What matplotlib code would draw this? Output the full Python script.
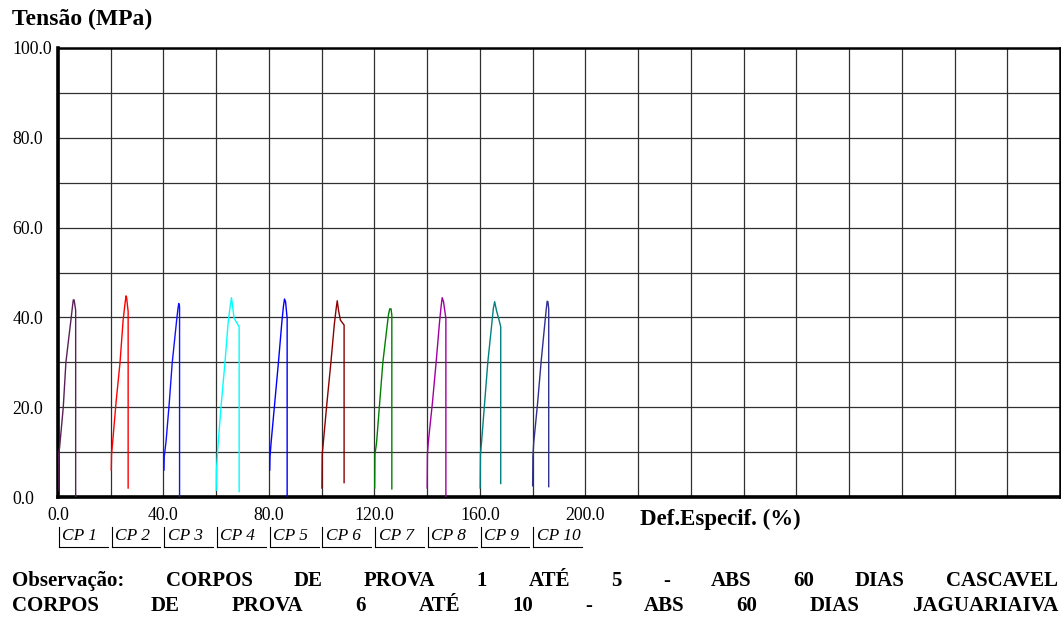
import matplotlib
matplotlib.use('Agg')
import matplotlib.pyplot as plt
from matplotlib.lines import Line2D

plt.rcParams['font.family'] = ['Liberation Serif', 'DejaVu Serif']

# stress-strain curves, one per test specimen (x = Def.Especif. %, y = Tensão MPa)
cp1_x = [0.0, 0.1, 0.6, 2.0, 3.0, 4.2, 4.9, 5.5, 5.8, 6.1, 6.7, 6.7]
cp1_y = [1.5, 9.0, 11.0, 20.0, 30.0, 36.0, 39.4, 42.5, 43.9, 43.9, 41.6, 0.0]
cp2_x = [20.2, 20.3, 20.7, 22.0, 23.5, 24.7, 25.4, 25.8, 26.0, 26.6, 26.6]
cp2_y = [6.0, 9.5, 12.0, 21.0, 29.8, 39.4, 43.0, 44.8, 44.5, 41.3, 2.0]
cp3_x = [40.2, 40.3, 41.0, 42.2, 43.3, 45.0, 45.5, 45.8, 46.1, 46.1]
cp3_y = [6.0, 9.0, 12.5, 21.0, 29.8, 39.4, 42.0, 43.1, 42.4, 0.0]
cp4_x = [60.0, 60.1, 60.5, 61.8, 63.3, 64.5, 65.3, 65.8, 66.2, 66.8, 68.7, 68.7]
cp4_y = [1.5, 6.0, 10.0, 20.0, 29.8, 38.7, 42.5, 44.4, 42.5, 39.8, 37.9, 1.2]
cp5_x = [80.3, 80.4, 80.8, 82.2, 83.6, 84.9, 85.5, 85.9, 86.3, 86.9, 86.9]
cp5_y = [6.0, 9.0, 12.0, 21.0, 30.0, 39.0, 42.5, 44.1, 43.5, 39.8, 0.0]
cp6_x = [100.1, 100.2, 100.6, 102.0, 103.5, 104.8, 105.5, 105.9, 106.4, 107.1, 108.5, 108.5]
cp6_y = [2.0, 9.5, 12.0, 21.0, 30.0, 38.5, 42.0, 43.7, 41.5, 39.4, 38.3, 3.2]
cp7_x = [120.1, 120.2, 120.8, 122.0, 123.2, 124.6, 125.3, 125.8, 126.3, 126.6, 126.6]
cp7_y = [2.0, 9.5, 12.0, 21.0, 30.0, 37.0, 40.5, 41.9, 41.9, 40.5, 1.8]
cp8_x = [140.0, 140.1, 140.4, 142.0, 143.4, 144.7, 145.3, 145.7, 146.2, 147.1, 147.1]
cp8_y = [2.0, 9.5, 12.0, 21.0, 30.0, 39.0, 42.5, 44.4, 43.5, 39.8, 0.0]
cp9_x = [160.1, 160.2, 160.6, 161.8, 163.0, 164.5, 165.1, 165.6, 166.3, 167.1, 167.9, 167.9]
cp9_y = [2.0, 9.5, 12.0, 21.0, 30.0, 38.5, 42.0, 43.5, 41.5, 39.8, 37.9, 3.0]
cp10_x = [180.0, 180.1, 180.4, 181.9, 183.2, 184.6, 185.2, 185.5, 185.8, 186.1, 186.1]
cp10_y = [2.5, 9.0, 12.0, 21.0, 30.0, 38.5, 42.0, 43.6, 43.5, 41.9, 2.3]

curves_x = [cp1_x, cp2_x, cp3_x, cp4_x, cp5_x, cp6_x, cp7_x, cp8_x, cp9_x, cp10_x]
curves_y = [cp1_y, cp2_y, cp3_y, cp4_y, cp5_y, cp6_y, cp7_y, cp8_y, cp9_y, cp10_y]
names = ['CP 1', 'CP 2', 'CP 3', 'CP 4', 'CP 5', 'CP 6', 'CP 7', 'CP 8', 'CP 9', 'CP 10']
name_pos = [0, 20, 40, 60, 80, 100, 120, 140, 160, 180]
colors = ['#5a2058', '#ff0000', '#1010ff', '#00ffff', '#0000ff',
          '#8b0000', '#008000', '#a000a0', '#008080', '#303090']

x_ticks = [0, 40, 80, 120, 160, 200]
x_labels = ['0.0', '40.0', '80.0', '120.0', '160.0', '200.0']
y_ticks = [0, 20, 40, 60, 80, 100]
y_labels = ['0.0', '20.0', '40.0', '60.0', '80.0', '100.0']

obs_line1 = ['Observação:', 'CORPOS', 'DE', 'PROVA', '1', 'ATÉ', '5', '-',
             'ABS', '60', 'DIAS', 'CASCAVEL']
obs_line2 = ['CORPOS', 'DE', 'PROVA', '6', 'ATÉ', '10', '-', 'ABS', '60',
             'DIAS', 'JAGUARIAIVA']

W, H = 1061, 617
fig = plt.figure(figsize=(W / 100, H / 100), dpi=100)
ax = fig.add_axes([58 / W, 1 - 497 / H, (1060 - 58) / W, (497 - 48) / H])

for xs, ys, c in zip(curves_x, curves_y, colors):
    ax.plot(xs, ys, color=c, lw=1.0, zorder=3)

ax.set_xlim(0, 380)
ax.set_ylim(0, 100)
ax.set_xticks(x_ticks, x_labels)
ax.set_xticks(range(0, 381, 20), minor=True)
ax.set_yticks(y_ticks, y_labels)
ax.set_yticks(range(0, 101, 10), minor=True)
ax.grid(True, which='both', color='#303030', lw=0.9)
ax.tick_params(which='both', length=0, labelsize=12.8)
ax.tick_params(axis='x', pad=7)
ax.tick_params(axis='y', pad=33)
for lab in ax.get_yticklabels():
    lab.set_horizontalalignment('left')
for side in ['top', 'right']:
    ax.spines[side].set_linewidth(1.8)
for side in ['left', 'bottom']:
    ax.spines[side].set_linewidth(2.6)

# specimen tabs below the axis
tr = ax.get_xaxis_transform()
for pos, name in zip(name_pos, names):
    ax.add_line(Line2D([pos + 0.3, pos + 0.3], [-0.066, -0.111], transform=tr,
                       color='black', lw=0.8, clip_on=False))
    ax.add_line(Line2D([pos + 0.3, pos + 18.8], [-0.111, -0.111], transform=tr,
                       color='black', lw=0.8, clip_on=False))
    ax.text(pos + 1.6, -0.087, name, transform=tr, fontsize=12.5, style='italic',
            ha='left', va='center')

fig.text(12 / W, 1 - 19 / H, 'Tensão (MPa)', fontsize=17, fontweight='bold',
         ha='left', va='center')
fig.text(640 / W, 1 - 519 / H, 'Def.Especif. (%)', fontsize=16.5, fontweight='bold',
         ha='left', va='center')

# justified observation text
renderer = fig.canvas.get_renderer()
for words, ypx in [(obs_line1, 581), (obs_line2, 606)]:
    texts = [fig.text(0, 1 - ypx / H, w, fontsize=15, fontweight='bold',
                      ha='left', va='center') for w in words]
    widths = [t.get_window_extent(renderer).width for t in texts]
    gap = (1058 - 12 - sum(widths)) / (len(words) - 1)
    x = 12
    for t, w in zip(texts, widths):
        t.set_x(x / W)
        x += w + gap

fig.savefig('out.png', dpi=100)
